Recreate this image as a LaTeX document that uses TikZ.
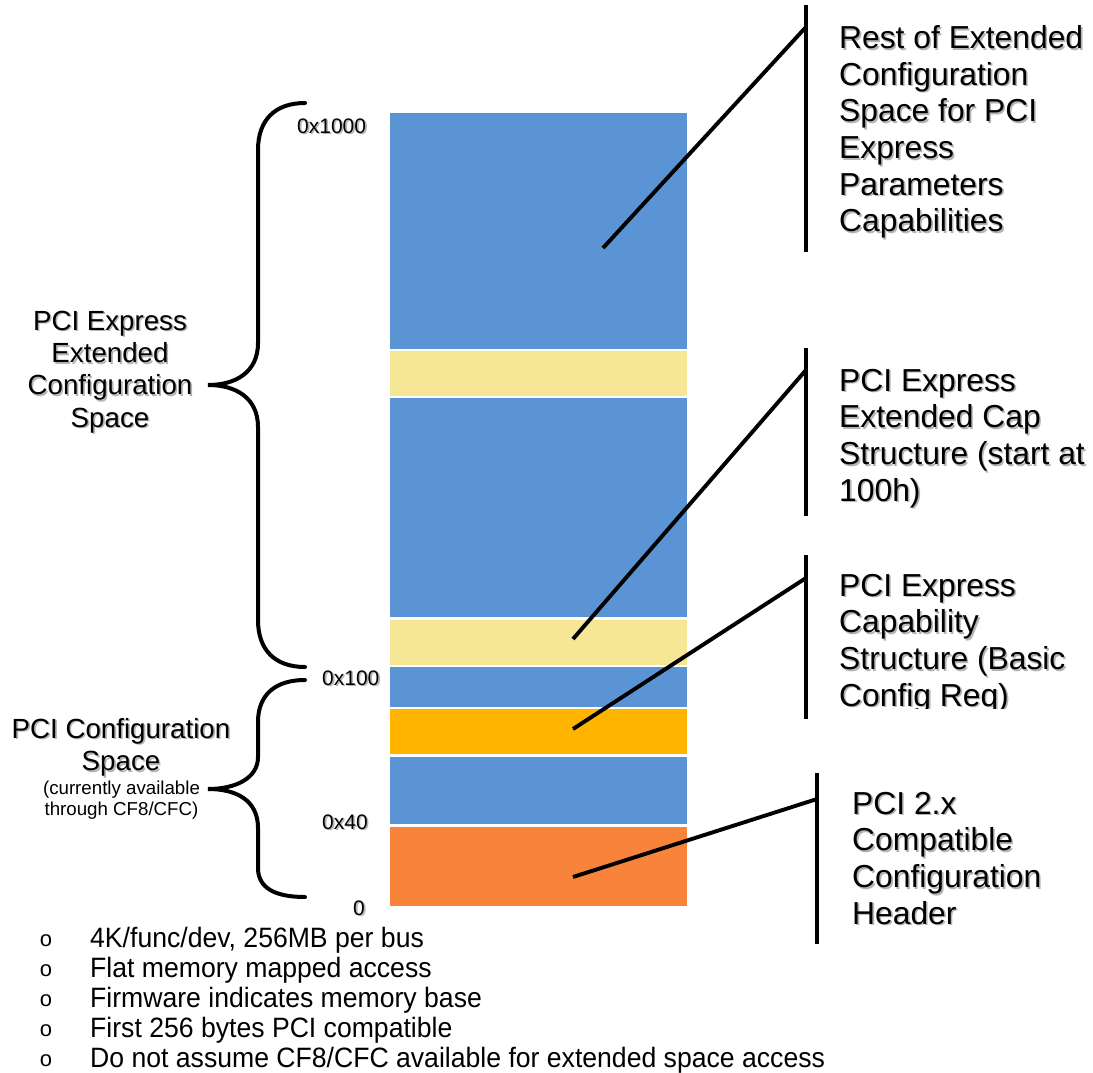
\documentclass[tikz,border=0pt]{standalone}
\usepackage{fontspec}
\setmainfont{Liberation Sans}
\usepackage{graphicx}
\definecolor{barblue}{HTML}{5B94D5}
\definecolor{barlight}{HTML}{F6E796}
\definecolor{bargold}{HTML}{FFB500}
\definecolor{barorange}{HTML}{F7843A}
\definecolor{shadowgray}{HTML}{B4B4B4}
\newcommand\shd[1]{\leavevmode\rlap{\kern1.6pt\raisebox{-1.6pt}{\color{shadowgray}#1}}#1}
\newcommand\lcol[1]{\shd{\begin{tabular}[t]{@{}l@{}}#1\end{tabular}}}
\newcommand\ccol[1]{\shd{\begin{tabular}[t]{@{}c@{}}#1\end{tabular}}}
\newcommand\ccolplain[1]{\begin{tabular}[t]{@{}c@{}}#1\end{tabular}}
\newcommand\narrowtxt[1]{\scalebox{0.95}[1]{#1}}
\begin{document}
\begin{tikzpicture}[x=1pt,y=-1pt,
  bar/.style={draw=white,line width=2.5pt,minimum width=299pt,inner sep=0pt,outer sep=0pt},
  leader/.style={line width=3.9pt,black},
  brace/.style={line width=4pt,black,line cap=round},
  rightlab/.style={inner sep=0pt,anchor=base west,font=\fontsize{31.8}{36.7}\selectfont},
  leftlab/.style={inner sep=0pt,anchor=base,font=\fontsize{27.7}{32.4}\selectfont},
  smalllab/.style={inner sep=0pt,anchor=base,font=\fontsize{18.7}{21}\selectfont},
  axislab/.style={inner sep=0pt,anchor=base west,font=\fontsize{21}{24}\selectfont},
  bullettext/.style={inner sep=0pt,anchor=base west,font=\fontsize{28}{30}\selectfont},
  bulletmark/.style={inner sep=0pt,anchor=base,font=\fontsize{22}{24}\selectfont}
]
\useasboundingbox (0,0) rectangle (1093,1073);
\fill[white] (0,0) rectangle (1093,1073);

% bars
\node[bar,fill=barblue,  minimum height=238pt]   (r1) at (538.5,231) {};
\node[bar,fill=barlight, minimum height=47pt]    (r2) at (538.5,373.5) {};
\node[bar,fill=barblue,  minimum height=221.5pt] (r3) at (538.5,507.75) {};
\node[bar,fill=barlight, minimum height=47.5pt]  (r4) at (538.5,642.25) {};
\node[bar,fill=barblue,  minimum height=42pt]    (r5) at (538.5,687) {};
\node[bar,fill=bargold,  minimum height=47.5pt]  (r6) at (538.5,731.75) {};
\node[bar,fill=barblue,  minimum height=70pt]    (r7) at (538.5,790.5) {};
\node[bar,fill=barorange,minimum height=81.5pt]  (r8) at (538.5,866.25) {};

% axis labels
\node[axislab] (a1000) at (297,133) {\shd{0x1000}};
\node[axislab] (a100)  at (322,685) {\shd{0x100}};
\node[axislab] (a40)   at (322,829) {\shd{0x40}};
\node[axislab] (a0)    at (353,915) {\shd{0}};

% braces
\draw[brace] (305,103) .. controls (275,103) and (258,120) .. (258,150)
  -- (258,343) .. controls (258,372) and (236,385) .. (208,385)
  .. controls (236,385) and (258,398) .. (258,427)
  -- (258,620) .. controls (258,650) and (275,667) .. (305,667);
\draw[brace] (305,680) .. controls (275,680) and (258,695) .. (258,722)
  -- (258,757) .. controls (258,778) and (236,789) .. (208,789)
  .. controls (236,789) and (258,800) .. (258,828)
  -- (258,868) .. controls (258,888) and (275,897) .. (305,897);

% left labels
\node[leftlab] (lext) at (110,330) {\ccol{PCI Express\\Extended\\Configuration\\Space}};
\node[leftlab] (lcfg) at (121,738) {\ccol{PCI Configuration\\Space}};
\node[smalllab] (lcfgsub) at (121.5,794) {\ccolplain{(currently available\\through CF8/CFC)}};

% right vertical bars and leaders
\coordinate (v1t) at (806,5);   \coordinate (v1b) at (806,252);
\coordinate (v2t) at (806,348); \coordinate (v2b) at (806,516);
\coordinate (v3t) at (806,555); \coordinate (v3b) at (806,719);
\coordinate (v4t) at (817,773); \coordinate (v4b) at (817,944);
\coordinate (q1) at (806,27);  \coordinate (p1) at (603,248);
\coordinate (q2) at (806,370); \coordinate (p2) at (573,639);
\coordinate (q3) at (806,578); \coordinate (p3) at (573,729);
\coordinate (q4) at (817,799); \coordinate (p4) at (573,877);
\draw[leader] (v1t) -- (v1b);
\draw[leader] (v2t) -- (v2b);
\draw[leader] (v3t) -- (v3b);
\draw[leader] (v4t) -- (v4b);
\draw[leader] (p1) -- (q1);
\draw[leader] (p2) -- (q2);
\draw[leader] (p3) -- (q3);
\draw[leader] (p4) -- (q4);

% right labels
\node[rightlab] (t1) at (839,48.5) {\lcol{Rest of Extended\\Configuration\\Space for PCI\\Express\\Parameters\\Capabilities}};
\node[rightlab] (t2) at (839,391) {\lcol{PCI Express\\Extended Cap\\Structure (start at\\100h)}};
\begin{scope}
\clip (820,540) rectangle (1093,708);
\node[rightlab] (t3) at (839,596) {\lcol{PCI Express\\Capability\\Structure (Basic\\Config Req)}};
\end{scope}
\node[rightlab] (t4) at (852,814) {\lcol{PCI 2.x\\Compatible\\Configuration\\Header}};

% bullets
\node[bulletmark] (m1) at (46,946) {o};
\node[bulletmark] (m2) at (46,976) {o};
\node[bulletmark] (m3) at (46,1006) {o};
\node[bulletmark] (m4) at (46,1036) {o};
\node[bulletmark] (m5) at (46,1066) {o};
\node[bullettext] (b1) at (90,947) {\narrowtxt{4K/func/dev, 256MB per bus}};
\node[bullettext] (b2) at (90,977) {\narrowtxt{Flat memory mapped access}};
\node[bullettext] (b3) at (90,1007) {\narrowtxt{Firmware indicates memory base}};
\node[bullettext] (b4) at (90,1037) {\narrowtxt{First 256 bytes PCI compatible}};
\node[bullettext] (b5) at (90,1067) {\narrowtxt{Do not assume CF8/CFC available for extended space access}};
\end{tikzpicture}
\end{document}
